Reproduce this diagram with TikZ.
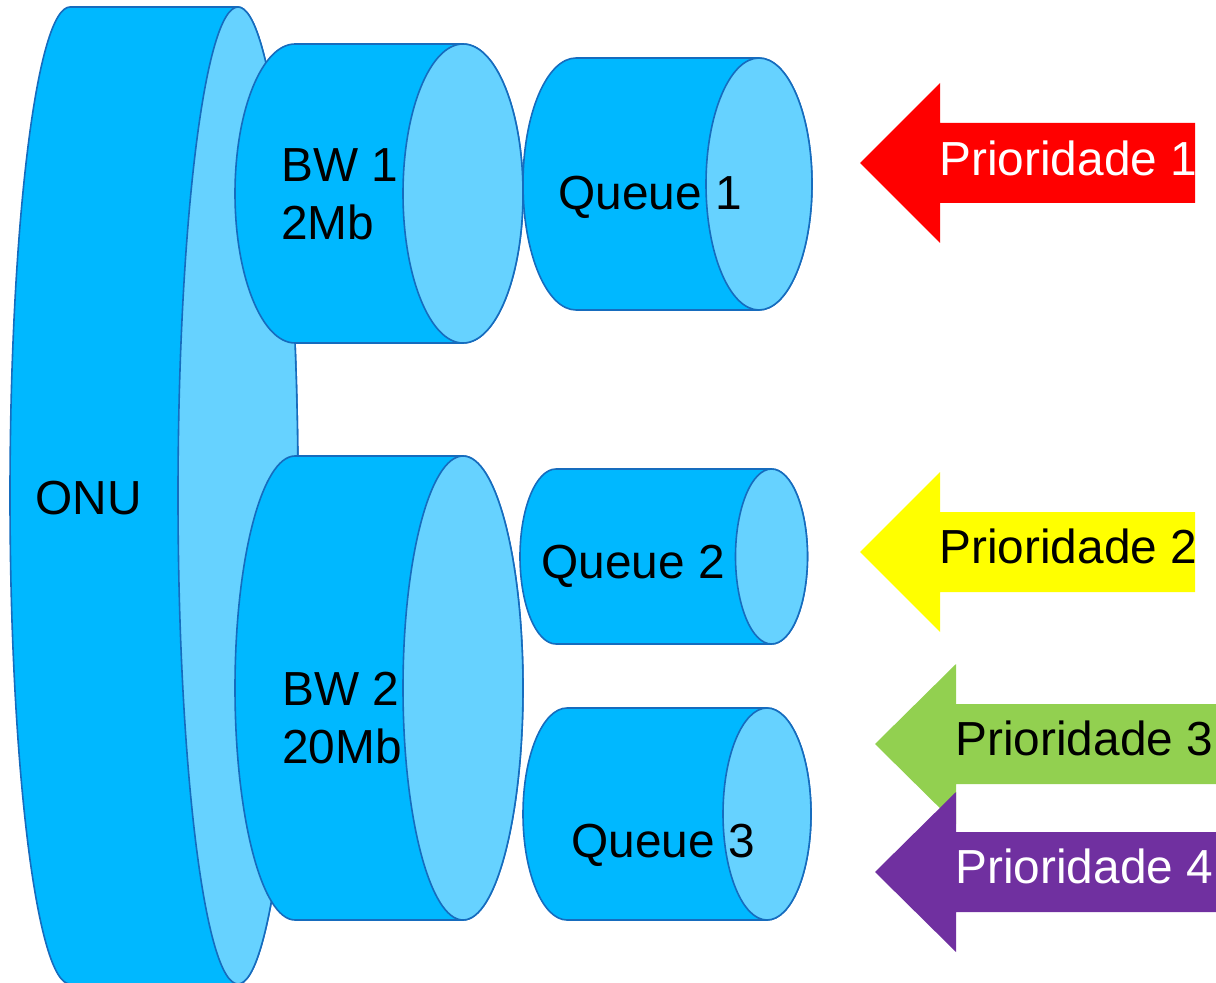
\documentclass[tikz,border=0pt]{standalone}
\usepackage{fontspec}
\setmainfont{Liberation Sans}
\definecolor{canblue}{RGB}{0,184,255}
\definecolor{canlight}{RGB}{102,210,255}
\definecolor{canline}{RGB}{22,108,190}
\definecolor{prired}{RGB}{255,0,0}
\definecolor{priyellow}{RGB}{255,255,0}
\definecolor{prigreen}{RGB}{146,208,80}
\definecolor{pripurple}{RGB}{112,48,160}
\tikzset{
	canbody/.style={fill=canblue, draw=canline, line width=0.8pt},
	canface/.style={fill=canlight, draw=canline, line width=0.8pt},
	lbl/.style={anchor=base west, inner sep=0pt, font=\fontsize{23.9}{28}\selectfont},
}
% #1 left centre x, #2 right centre x, #3 x radius, #4 centre y, #5 y radius
\newcommand{\drawcan}[5]{%
	\path[canbody] (#1,#4+#5) -- (#2,#4+#5) arc[start angle=90, end angle=-90, x radius=#3, y radius=#5] -- (#1,#4-#5) arc[start angle=270, end angle=90, x radius=#3, y radius=#5] -- cycle;
	\path[canface] (#2,#4) ellipse[x radius=#3, y radius=#5];}
% #1 tip x, #2 head x, #3 right end x, #4 centre y, #5 colour
\newcommand{\drawprio}[5]{%
	\fill[#5] (#1,#4) -- (#2,#4+80) -- (#2,#4+40) -- (#3,#4+40) -- (#3,#4-40) -- (#2,#4-40) -- (#2,#4-80) -- cycle;}
\begin{document}
\begin{tikzpicture}[x=0.5pt, y=0.5pt]
		\useasboundingbox (0,0) rectangle (1216,982);
		\clip (0,0) rectangle (1216,982);
		\drawcan{70}{238}{60}{486.5}{488.5}
		\drawcan{295}{463}{60}{788.5}{149.5}
		\drawcan{295}{463}{60}{294}{232}
		\drawcan{576}{759}{53}{798}{126}
		\drawcan{556}{771.5}{36}{425.5}{87.5}
		\drawcan{567}{767}{44}{168}{106}
		\node[lbl](onu) at (35,468){ONU};
		\node[lbl](bwone) at (281,800){BW 1};
		\node[lbl](bwonerate) at (281,742){2Mb};
		\node[lbl](bwtwo) at (282,277){BW 2};
		\node[lbl](bwtworate) at (282,219){20Mb};
		\node[lbl](qone) at (558,772){Queue 1};
		\node[lbl](qtwo) at (541,404){Queue 2};
		\node[lbl](qthree) at (571,125){Queue 3};
		\drawprio{860}{940}{1195}{819}{prired}
		\drawprio{860}{940}{1195}{430}{priyellow}
		\drawprio{875}{956}{1240}{238}{prigreen}
		\drawprio{875}{956}{1240}{110}{pripurple}
		\node[lbl, text=white](pone) at (939,806){Prioridade 1};
		\node[lbl](ptwo) at (939,419){Prioridade 2};
		\node[lbl](pthree) at (955,227){Prioridade 3};
		\node[lbl, text=white](pfour) at (955,99){Prioridade 4};
	\end{tikzpicture}
\end{document}
